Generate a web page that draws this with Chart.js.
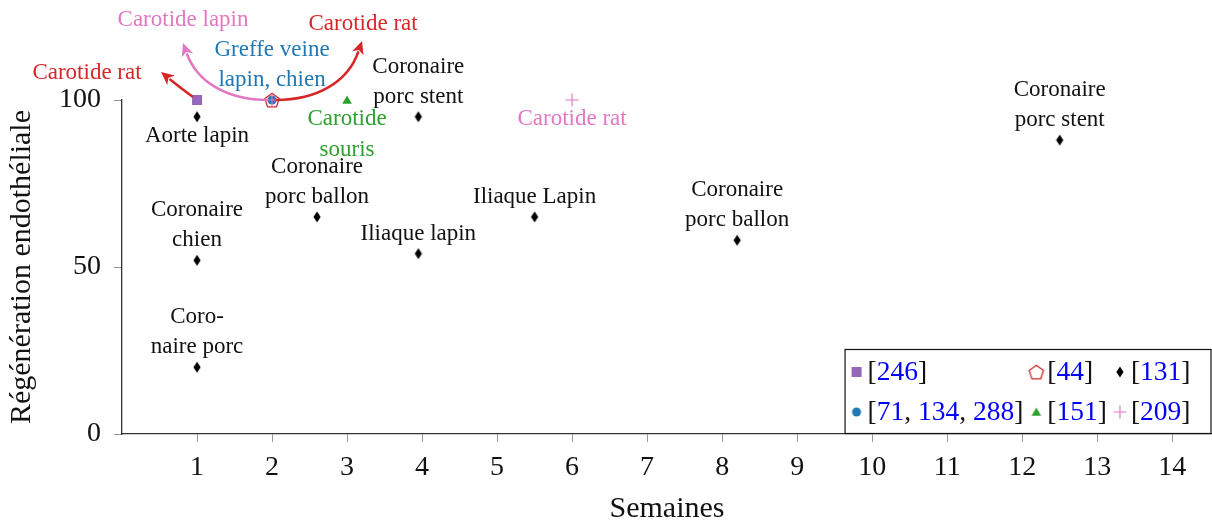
<!DOCTYPE html>
<html lang="fr">
<head>
<meta charset="utf-8">
<script src="https://cdn.jsdelivr.net/npm/chart.js@4.4.1/dist/chart.umd.min.js"></script>
<style>
  html, body { margin: 0; padding: 0; background: #fff; }
</style>
</head>
<body>
<canvas id="graphe" width="1212" height="523"></canvas>
<script>
// données (semaines / régénération endothéliale en %)
const x246 = [1];
const y246 = [100];

const x44 = [2];
const y44 = [100];

const x131 = [1, 1, 1, 2.6, 3.95, 3.95, 5.5, 8.2, 12.5];
const y131 = [95, 52, 20, 65, 95, 54, 65, 58, 88];
const textes131 = ['Aorte lapin', 'Coronaire\nchien', 'Coro-\nnaire porc', 'Coronaire\nporc ballon',
  'Coronaire\nporc stent', 'Iliaque lapin', 'Iliaque Lapin', 'Coronaire\nporc ballon', 'Coronaire\nporc stent'];
const cotes131 = ['dessous', 'dessus', 'dessus', 'dessus', 'dessus', 'dessus', 'dessus', 'dessus', 'dessus'];

const x71 = [2];
const y71 = [100];
const textes71 = ['Greffe veine\nlapin, chien'];

const x151 = [3];
const y151 = [100];
const textes151 = ['Carotide\nsouris'];

const x209 = [2, 6];
const y209 = [100, 100];
const textes209 = ['', 'Carotide rat'];

// flèches (point de départ + texte)
const flecheX = [1, 2, 2];
const flecheY = [100, 100, 100];
const flecheTextes = ['Carotide rat', 'Carotide lapin', 'Carotide rat'];

const refs246 = [246];
const refs44 = [44];
const refs131 = [131];
const refs71 = [71, 134, 288];
const refs151 = [151];
const refs209 = [209];

const ticksX = [1, 2, 3, 4, 5, 6, 7, 8, 9, 10, 11, 12, 13, 14];
const ticksY = [0, 50, 100];

const VIOLET = '#9467bd', ROUGE = '#d62728', BLEU = '#1f77b4', VERT = '#2ca02c', ROSE = '#e377c2';
const SERIF = '"Liberation Serif", "DejaVu Serif", serif';

function marqueur(type, couleur) {
  const c = document.createElement('canvas');
  c.width = 24; c.height = 24;
  const g = c.getContext('2d');
  g.translate(12, 12);
  g.fillStyle = couleur;
  g.strokeStyle = couleur;
  if (type === 'carre') {
    g.fillRect(-5, -5, 10, 10);
  } else if (type === 'pentagone') {
    g.lineWidth = 1.3;
    g.beginPath();
    for (let i = 0; i < 5; i++) {
      const a = -Math.PI / 2 + i * 2 * Math.PI / 5;
      g.lineTo(7.5 * Math.cos(a), 7.5 * Math.sin(a) + 0.8);
    }
    g.closePath();
    g.stroke();
  } else if (type === 'losange') {
    g.beginPath();
    g.moveTo(0, -5.5); g.lineTo(3.6, 0); g.lineTo(0, 5.5); g.lineTo(-3.6, 0);
    g.closePath();
    g.fill();
  } else if (type === 'rond') {
    g.beginPath();
    g.arc(0, 0, 4.5, 0, Math.PI * 2);
    g.fill();
  } else if (type === 'triangle') {
    g.beginPath();
    g.moveTo(0, -4.5); g.lineTo(4.8, 3.8); g.lineTo(-4.8, 3.8);
    g.closePath();
    g.fill();
  } else if (type === 'plus') {
    g.lineWidth = 1.2;
    g.beginPath();
    g.moveTo(-6.5, 0); g.lineTo(6.5, 0);
    g.moveTo(0, -6.5); g.lineTo(0, 6.5);
    g.stroke();
  }
  return c;
}

const m246 = marqueur('carre', VIOLET);
const m44 = marqueur('pentagone', ROUGE);
const m131 = marqueur('losange', '#000');
const m71 = marqueur('rond', BLEU);
const m151 = marqueur('triangle', VERT);
const m209 = marqueur('plus', ROSE);

const pts = (xs, ys) => xs.map((v, i) => ({ x: v, y: ys[i] }));

// groupes de textes posés près des points
const groupes = [
  { x: x131, y: y131, textes: textes131, cotes: cotes131, couleur: '#111' },
  { x: x71, y: y71, textes: textes71, cotes: ['dessus'], couleur: BLEU },
  { x: x151, y: y151, textes: textes151, cotes: ['dessous'], couleur: VERT },
  { x: x209, y: y209, textes: textes209, cotes: ['dessous', 'dessous'], couleur: ROSE }
];

// style des flèches: décalages en pixels depuis le point de départ
const flecheStyles = [
  { couleur: ROUGE, chemin: [-4, -3, -15, -11, -25, -19, -36, -28], texte: [-110, -27] },
  { couleur: ROSE, chemin: [-4, 0, -45, 0, -75, -18, -89, -57], texte: [-89, -80] },
  { couleur: ROUGE, chemin: [4, 0, 45, 0, 76, -18, 90, -59], texte: [91, -76] }
];

const legende = [
  { m: m246, refs: refs246 }, { m: m44, refs: refs44 }, { m: m131, refs: refs131 },
  { m: m71, refs: refs71 }, { m: m151, refs: refs151 }, { m: m209, refs: refs209 }
];

function fleche(ctx, x0, y0, s) {
  const c = s.chemin;
  ctx.strokeStyle = s.couleur;
  ctx.fillStyle = s.couleur;
  ctx.lineWidth = 2.6;
  const tx = x0 + c[6], ty = y0 + c[7];
  const ang = Math.atan2(c[7] - c[5], c[6] - c[4]);
  const L = 13, W = 6;
  const bx = tx - Math.cos(ang) * (L - 2), by = ty - Math.sin(ang) * (L - 2);
  ctx.beginPath();
  ctx.moveTo(x0 + c[0], y0 + c[1]);
  ctx.bezierCurveTo(x0 + c[2], y0 + c[3], x0 + c[4], y0 + c[5], bx, by);
  ctx.stroke();
  ctx.beginPath();
  ctx.moveTo(tx, ty);
  ctx.lineTo(tx - Math.cos(ang) * L - Math.sin(ang) * W, ty - Math.sin(ang) * L + Math.cos(ang) * W);
  ctx.lineTo(tx - Math.cos(ang) * (L - 3.5), ty - Math.sin(ang) * (L - 3.5));
  ctx.lineTo(tx - Math.cos(ang) * L + Math.sin(ang) * W, ty - Math.sin(ang) * L - Math.cos(ang) * W);
  ctx.closePath();
  ctx.fill();
}

function largeurRefs(ctx, refs) {
  return ctx.measureText('[' + refs.join(', ') + ']').width;
}

function ecrireRefs(ctx, refs, x, y) {
  const morceaux = [['[', '#111']];
  refs.forEach((r, i) => {
    if (i > 0) morceaux.push([', ', '#111']);
    morceaux.push([String(r), '#0000ff']);
  });
  morceaux.push([']', '#111']);
  morceaux.forEach(([t, col]) => {
    ctx.fillStyle = col;
    ctx.fillText(t, x, y);
    x += ctx.measureText(t).width;
  });
}

const annotations = {
  id: 'annotations',
  afterDatasetsDraw(chart) {
    const { ctx, scales: { x, y } } = chart;
    ctx.save();
    ctx.font = '23px ' + SERIF;
    ctx.textAlign = 'center';
    ctx.textBaseline = 'middle';

    groupes.forEach(g => {
      g.x.forEach((vx, i) => {
        const txt = g.textes[i];
        if (!txt) return;
        const px = x.getPixelForValue(vx), py = y.getPixelForValue(g.y[i]);
        const lignes = txt.split('\n');
        ctx.fillStyle = g.couleur;
        lignes.forEach((l, k) => {
          const dy = g.cotes[i] === 'dessus' ? -20 - 30 * (lignes.length - 1 - k) : 19 + 31 * k;
          ctx.fillText(l, px, py + dy);
        });
      });
    });

    flecheX.forEach((vx, i) => {
      const s = flecheStyles[i];
      const px = x.getPixelForValue(vx), py = y.getPixelForValue(flecheY[i]);
      fleche(ctx, px, py, s);
      ctx.fillStyle = s.couleur;
      ctx.fillText(flecheTextes[i], px + s.texte[0], py + s.texte[1]);
    });
    ctx.restore();
  },
  afterDraw(chart) {
    // légende en bas à droite, 3 colonnes x 2 lignes
    const { ctx, chartArea } = chart;
    ctx.save();
    ctx.font = '27.5px ' + SERIF;
    ctx.textBaseline = 'middle';
    ctx.textAlign = 'left';
    const cols = [0, 1, 2].map(c => Math.max(
      largeurRefs(ctx, legende[c].refs), largeurRefs(ctx, legende[c + 3].refs)));
    const total = 12 + cols.reduce((a, w) => a + 11 + w, 0) + 13 * 2 + 20;
    const droite = chartArea.right - 1.5, bas = chartArea.bottom - 1;
    const gauche = droite - total, haut = bas - 84;
    ctx.fillStyle = '#fff';
    ctx.fillRect(gauche, haut, total, 84);
    ctx.strokeStyle = '#111';
    ctx.lineWidth = 1.2;
    ctx.strokeRect(gauche + 0.5, haut + 0.5, total, 84);
    let mx = gauche + 12;
    const mxs = [];
    cols.forEach(w => { mxs.push(mx); mx += 11 + w + 13; });
    legende.forEach((e, i) => {
      const c = i % 3, r = Math.floor(i / 3);
      const cy = haut + 23 + r * 40;
      ctx.drawImage(e.m, mxs[c] - 12, cy - 12);
      ecrireRefs(ctx, e.refs, mxs[c] + 11, cy + 1);
    });
    ctx.restore();
  }
};

new Chart(document.getElementById('graphe'), {
  type: 'scatter',
  data: {
    datasets: [
      { label: '[246]', data: pts(x246, y246), pointStyle: m246, order: 1 },
      { label: '[44]', data: pts(x44, y44), pointStyle: m44, order: 4 },
      { label: '[131]', data: pts(x131, y131), pointStyle: m131, order: 1 },
      { label: '[71, 134, 288]', data: pts(x71, y71), pointStyle: m71, order: 3 },
      { label: '[151]', data: pts(x151, y151), pointStyle: m151, order: 1 },
      { label: '[209]', data: pts(x209, y209), pointStyle: m209, order: 2 }
    ].map(d => Object.assign(d, { clip: false, pointRadius: 6, pointHoverRadius: 6 }))
  },
  options: {
    responsive: false,
    animation: false,
    events: [],
    layout: { autoPadding: false, padding: { top: 100, right: 0, left: 0, bottom: 0 } },
    plugins: { legend: { display: false }, tooltip: { enabled: false } },
    scales: {
      x: {
        type: 'linear',
        min: 0,
        max: 14.53,
        afterFit(s) { s.height = 89; s.paddingLeft = 0; s.paddingRight = 0; },
        afterBuildTicks(s) { s.ticks = ticksX.map(v => ({ value: v })); },
        ticks: { font: { family: SERIF, size: 28 }, color: '#111', padding: 9 },
        grid: { drawOnChartArea: false, drawTicks: true, tickLength: 8, color: '#999' },
        border: { display: true, color: '#333', width: 1.3 },
        title: { display: true, text: 'Semaines', color: '#111',
          font: { family: SERIF, size: 30, lineHeight: 1 }, padding: { bottom: -1 } }
      },
      y: {
        type: 'linear',
        min: 0,
        max: 100,
        afterFit(s) { s.width = 122; s.paddingTop = 0; s.paddingBottom = 0; },
        afterBuildTicks(s) { s.ticks = ticksY.map(v => ({ value: v })); },
        ticks: { font: { family: SERIF, size: 28 }, color: '#111', padding: 13 },
        grid: { drawOnChartArea: false, drawTicks: true, tickLength: 8, color: '#999' },
        border: { display: true, color: '#333', width: 1.3 },
        title: { display: true, text: 'Régénération endothéliale', color: '#111',
          font: { family: SERIF, size: 30, lineHeight: 1 }, padding: { top: 7 } }
      }
    }
  },
  plugins: [annotations]
});
</script>
</body>
</html>
